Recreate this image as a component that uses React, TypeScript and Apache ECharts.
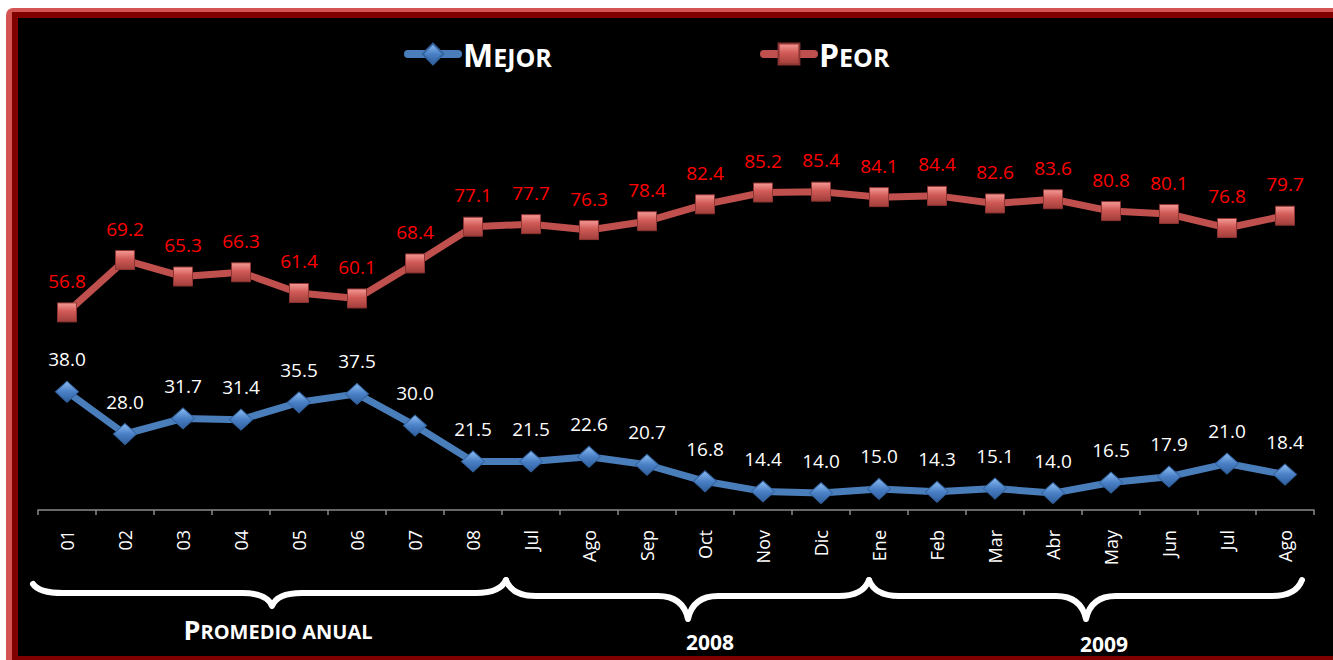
import React, { useEffect, useRef } from "react";
import * as echarts from "echarts";

const categories = ["01", "02", "03", "04", "05", "06", "07", "08", "Jul", "Ago", "Sep", "Oct", "Nov", "Dic", "Ene", "Feb", "Mar", "Abr", "May", "Jun", "Jul", "Ago"];
const mejor = [38.0, 28.0, 31.7, 31.4, 35.5, 37.5, 30.0, 21.5, 21.5, 22.6, 20.7, 16.8, 14.4, 14.0, 15.0, 14.3, 15.1, 14.0, 16.5, 17.9, 21.0, 18.4];
const peor = [56.8, 69.2, 65.3, 66.3, 61.4, 60.1, 68.4, 77.1, 77.7, 76.3, 78.4, 82.4, 85.2, 85.4, 84.1, 84.4, 82.6, 83.6, 80.8, 80.1, 76.8, 79.7];
const seriesNames = ["Mejor", "Peor"];
const groupTitles = ["PROMEDIO ANUAL", "2008", "2009"];

const FONT = '"Open Sans", "Noto Sans", sans-serif';

function bracePath(x0: number, x1: number, yEnd0: number, yEnd1: number, yMid: number, xTip: number, yTip: number) {
  const r = 30;
  return [
    `M ${x0} ${yEnd0}`,
    `Q ${x0 + 6} ${yMid} ${x0 + r} ${yMid}`,
    `L ${xTip - r} ${yMid}`,
    `Q ${xTip - 5} ${yMid} ${xTip} ${yTip}`,
    `Q ${xTip + 5} ${yMid} ${xTip + r} ${yMid}`,
    `L ${x1 - r} ${yMid}`,
    `Q ${x1 - 6} ${yMid} ${x1} ${yEnd1}`,
  ].join(" ");
}

echarts.graphic.registerShape("brace1", echarts.graphic.extendPath(bracePath(33, 506, 584, 580, 593, 272, 606), {}));
echarts.graphic.registerShape("brace2", echarts.graphic.extendPath(bracePath(506, 869, 580, 580, 596, 688, 619), {}));
echarts.graphic.registerShape("brace3", echarts.graphic.extendPath(bracePath(869, 1302, 580, 580, 596, 1086, 619), {}));

function smallCaps(s: string) {
  return `{a|${s.charAt(0)}}{b|${s.slice(1)}}`;
}

export default function App() {
  const ref = useRef<HTMLDivElement>(null);

  useEffect(() => {
    if (!ref.current) return;
    const chart = echarts.init(ref.current, null, { renderer: "svg" });

    const braceStyle = { stroke: "#ffffff", lineWidth: 6, fill: "none", lineCap: "round", lineJoin: "round" };
    const legendRich = {
      a: { fontSize: 32, fontWeight: "bold", color: "#fff", fontFamily: FONT, verticalAlign: "bottom" },
      b: { fontSize: 25, fontWeight: "bold", color: "#fff", fontFamily: FONT, verticalAlign: "bottom", padding: [0, 0, 1, 0] },
    };

    const blueGrad = new echarts.graphic.LinearGradient(0, 0, 0, 1, [
      { offset: 0, color: "#8dbdf2" },
      { offset: 0.5, color: "#4a80c6" },
      { offset: 1, color: "#2f5f9e" },
    ]);
    const redGrad = new echarts.graphic.LinearGradient(0, 0, 0, 1, [
      { offset: 0, color: "#f59a96" },
      { offset: 0.45, color: "#d05a56" },
      { offset: 1, color: "#a13e3b" },
    ]);

    const legendCommon = {
      top: 38,
      padding: 0,
      itemWidth: 50,
      itemHeight: 26,
      textStyle: { color: "#fff", rich: legendRich },
    };

    chart.setOption({
      animation: false,
      backgroundColor: "#ffffff",
      grid: { left: 38, right: 19, top: 130, bottom: 150, containLabel: false },
      legend: [
        {
          ...legendCommon,
          data: [seriesNames[0]],
          left: 404,
          formatter: () => smallCaps(seriesNames[0].toUpperCase()),
          lineStyle: { width: 8, color: "#4a7ebb", cap: "round" },
        },
        {
          ...legendCommon,
          data: [seriesNames[1]],
          left: 760,
          formatter: () => smallCaps(seriesNames[1].toUpperCase()),
          lineStyle: { width: 8, color: "#c0504d", cap: "round" },
        },
      ],
      xAxis: {
        type: "category",
        data: categories,
        boundaryGap: true,
        axisLine: { show: true, lineStyle: { color: "#8a8a8a", width: 1.5 } },
        axisTick: { show: true, length: 5, lineStyle: { color: "#8a8a8a", width: 1.5 } },
        axisLabel: { rotate: 90, color: "#ffffff", fontSize: 18, fontFamily: FONT, margin: 20, interval: 0 },
        splitLine: { show: false },
      },
      yAxis: {
        type: "value",
        min: 10,
        max: 100,
        show: false,
        splitLine: { show: false },
      },
      series: [
        {
          name: seriesNames[0],
          type: "line",
          data: mejor,
          symbol: "diamond",
          symbolSize: [23, 21],
          lineStyle: { color: "#4a7ebb", width: 7 },
          itemStyle: { color: blueGrad, borderColor: "#34649f", borderWidth: 1 },
          label: {
            show: true,
            position: "top",
            distance: 12,
            color: "#ffffff",
            fontSize: 19,
            fontFamily: FONT,
            formatter: (p: any) => Number(p.value).toFixed(1),
          },
          z: 3,
        },
        {
          name: seriesNames[1],
          type: "line",
          data: peor,
          symbol: "rect",
          symbolSize: 19,
          lineStyle: { color: "#c0504d", width: 7 },
          itemStyle: { color: redGrad, borderColor: "#8c3432", borderWidth: 1 },
          label: {
            show: true,
            position: "top",
            distance: 12,
            color: "#ff0000",
            fontSize: 19,
            fontFamily: FONT,
            formatter: (p: any) => Number(p.value).toFixed(1),
          },
          z: 3,
        },
      ],
      graphic: [
        { type: "rect", z: -10, shape: { x: 6, y: 8, width: 1400, height: 700, r: [7, 0, 0, 0] }, style: { fill: "#d35553" } },
        { type: "rect", z: -9, shape: { x: 12, y: 12, width: 1400, height: 700 }, style: { fill: "#800000" } },
        { type: "rect", z: -8, shape: { x: 18, y: 18, width: 1400, height: 638 }, style: { fill: "#000000" } },
        { type: "brace1", z: 10, x: 0, y: 0, style: braceStyle },
        { type: "brace2", z: 10, x: 0, y: 0, style: braceStyle },
        { type: "brace3", z: 10, x: 0, y: 0, style: braceStyle },
        {
          type: "text",
          z: 10,
          x: 278,
          y: 629,
          style: {
            text: smallCaps(groupTitles[0]),
            align: "center",
            verticalAlign: "middle",
            fill: "#fff",
            rich: {
              a: { fontSize: 27, fontWeight: "bold", fill: "#fff", fontFamily: FONT, verticalAlign: "bottom" },
              b: { fontSize: 20, fontWeight: "bold", fill: "#fff", fontFamily: FONT, verticalAlign: "bottom", padding: [0, 0, 1, 0] },
            },
          },
        },
        {
          type: "text",
          z: 10,
          x: 710,
          y: 642,
          style: { text: groupTitles[1], align: "center", verticalAlign: "middle", fill: "#fff", fontSize: 21, fontWeight: "bold", fontFamily: FONT },
        },
        {
          type: "text",
          z: 10,
          x: 1104,
          y: 644,
          style: { text: groupTitles[2], align: "center", verticalAlign: "middle", fill: "#fff", fontSize: 21, fontWeight: "bold", fontFamily: FONT },
        },
      ],
    });

    return () => chart.dispose();
  }, []);

  return <div ref={ref} style={{ position: "absolute", left: 0, top: 0, width: 1333, height: 660 }} />;
}
